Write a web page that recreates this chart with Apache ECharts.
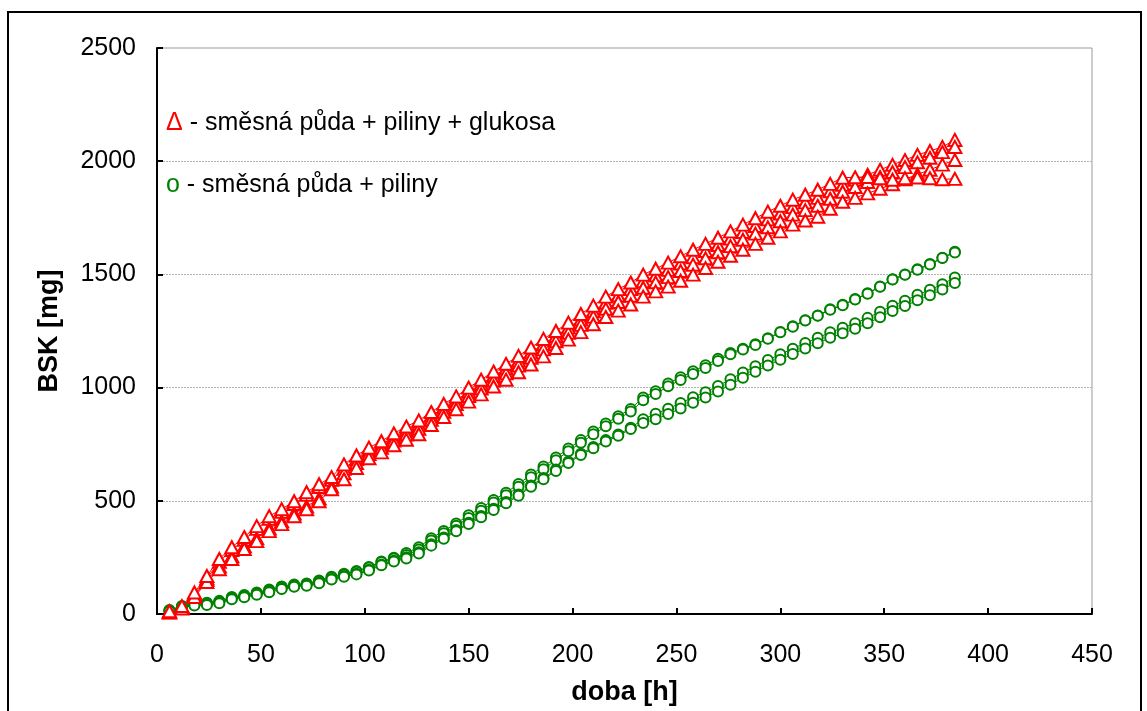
<!DOCTYPE html>
<html>
<head>
<meta charset="utf-8">
<script src="https://cdn.jsdelivr.net/npm/echarts@6/dist/echarts.min.js"></script>
<style>
  html, body { margin: 0; padding: 0; background: #fff; }
  #chart { width: 1147px; height: 711px; }
</style>
</head>
<body>
<div id="chart"></div>
<script>
// Sampling times [h]
const hours = [6, 12, 18, 24, 30, 36, 42, 48, 54, 60, 66, 72, 78, 84, 90, 96,
  102, 108, 114, 120, 126, 132, 138, 144, 150, 156, 162, 168, 174, 180, 186, 192,
  198, 204, 210, 216, 222, 228, 234, 240, 246, 252, 258, 264, 270, 276, 282, 288,
  294, 300, 306, 312, 318, 324, 330, 336, 342, 348, 354, 360, 366, 372, 378, 384];

// BSK [mg] – mixed soil + sawdust + glucose (four replicates)
const glucA = [10, 30, 88, 158, 231, 283, 328, 376, 420, 451, 486, 526, 561, 593, 641, 684,
  721, 748, 782, 811, 837, 875, 911, 944, 981, 1016, 1051, 1084, 1118, 1155, 1192, 1228,
  1265, 1301, 1337, 1375, 1407, 1435, 1470, 1495, 1520, 1548, 1576, 1603, 1630, 1658, 1687, 1714,
  1743, 1769, 1797, 1818, 1838, 1867, 1896, 1918, 1940, 1962, 1984, 2005, 2028, 2045, 2063, 2094];
const glucB = [8, 27, 80, 150, 210, 255, 299, 334, 378, 409, 444, 475, 510, 563, 621, 667,
  707, 734, 766, 793, 818, 858, 893, 927, 963, 996, 1031, 1063, 1097, 1132, 1169, 1205,
  1242, 1277, 1313, 1348, 1378, 1406, 1441, 1465, 1488, 1515, 1543, 1571, 1598, 1625, 1653, 1680,
  1708, 1735, 1764, 1784, 1803, 1834, 1865, 1886, 1908, 1930, 1952, 1974, 1995, 2015, 2040, 2063];
const glucC = [6, 24, 75, 141, 198, 243, 287, 322, 366, 397, 432, 463, 498, 551, 595, 645,
  688, 714, 745, 770, 794, 835, 870, 904, 938, 970, 1005, 1035, 1068, 1102, 1138, 1175,
  1212, 1245, 1280, 1312, 1340, 1367, 1402, 1425, 1446, 1472, 1499, 1528, 1556, 1582, 1609, 1635,
  1662, 1690, 1720, 1738, 1755, 1790, 1821, 1838, 1858, 1878, 1898, 1920, 1942, 1962, 1985, 2005];
const glucD = [12, 35, 95, 168, 243, 295, 340, 388, 432, 463, 498, 538, 573, 605, 661, 700,
  735, 763, 798, 828, 855, 892, 928, 961, 1000, 1035, 1071, 1105, 1140, 1177, 1215, 1250,
  1287, 1325, 1362, 1402, 1435, 1464, 1499, 1525, 1552, 1580, 1609, 1635, 1662, 1690, 1720, 1748,
  1777, 1803, 1830, 1852, 1874, 1900, 1927, 1929, 1930, 1925, 1918, 1925, 1928, 1925, 1920, 1922];

// BSK [mg] – mixed soil + sawdust (four replicates)
const sawA = [18, 35, 44, 50, 58, 75, 84, 95, 108, 122, 130, 135, 148, 165, 178, 190,
  208, 232, 248, 269, 295, 335, 367, 400, 436, 468, 504, 536, 574, 616, 651, 691,
  731, 768, 806, 841, 874, 906, 956, 984, 1018, 1046, 1072, 1099, 1127, 1153, 1172, 1192,
  1218, 1246, 1271, 1298, 1319, 1346, 1366, 1391, 1417, 1447, 1479, 1500, 1523, 1546, 1574, 1600];
const sawB = [16, 33, 42, 47, 55, 72, 81, 92, 105, 119, 127, 132, 145, 162, 175, 187,
  205, 229, 245, 261, 285, 325, 357, 390, 424, 456, 492, 524, 562, 604, 639, 679,
  719, 756, 794, 829, 862, 894, 944, 972, 1006, 1034, 1060, 1087, 1117, 1147, 1168, 1188,
  1216, 1244, 1269, 1296, 1317, 1344, 1364, 1389, 1415, 1445, 1477, 1498, 1521, 1544, 1572, 1597];
const sawC = [14, 30, 40, 43, 51, 68, 77, 88, 99, 113, 123, 128, 139, 155, 168, 178,
  195, 218, 235, 251, 273, 308, 338, 371, 403, 433, 465, 495, 528, 568, 601, 638,
  673, 708, 738, 768, 793, 823, 860, 884, 907, 932, 957, 980, 1007, 1037, 1067, 1094,
  1122, 1147, 1172, 1197, 1220, 1244, 1264, 1284, 1308, 1335, 1362, 1384, 1410, 1432, 1457, 1486];
const sawD = [12, 28, 38, 40, 48, 65, 74, 85, 96, 110, 120, 125, 136, 152, 165, 175,
  192, 215, 232, 245, 267, 302, 332, 365, 397, 427, 459, 489, 522, 562, 595, 632,
  667, 702, 732, 762, 787, 817, 844, 860, 883, 908, 933, 956, 983, 1013, 1043, 1070,
  1098, 1123, 1148, 1173, 1196, 1220, 1240, 1260, 1284, 1311, 1338, 1360, 1386, 1408, 1433, 1462];

// Axis ticks
const xTicks = [0, 50, 100, 150, 200, 250, 300, 350, 400, 450];
const yTicks = [0, 500, 1000, 1500, 2000, 2500];

const RED = '#ff0000';
const GREEN = '#008000';
const FONT = '"Liberation Sans", Arial, sans-serif';

function pairs(values) {
  return hours.map((h, i) => [h, values[i]]);
}

function replicate(values, color, symbol, size) {
  return {
    type: 'line',
    data: pairs(values),
    symbol: symbol,
    symbolSize: size,
    showAllSymbol: true,
    lineStyle: { color: color, width: 1 },
    itemStyle: { color: '#ffffff', borderColor: color, borderWidth: 2 },
    emphasis: { disabled: true },
    animation: false
  };
}

const chart = echarts.init(document.getElementById('chart'), null, { renderer: 'canvas' });

chart.setOption({
  backgroundColor: '#ffffff',
  animation: false,
  grid: {
    left: 157, top: 48, right: 55, bottom: 96,
    show: true, borderColor: '#9a9a9a', borderWidth: 1, backgroundColor: 'transparent'
  },
  xAxis: {
    type: 'value',
    min: xTicks[0], max: xTicks[xTicks.length - 1], interval: xTicks[1] - xTicks[0],
    name: 'doba [h]', nameLocation: 'middle', nameGap: 65,
    nameTextStyle: { fontFamily: FONT, fontSize: 27, fontWeight: 'bold', color: '#000' },
    axisLine: { show: true, onZero: false, lineStyle: { color: '#000', width: 2 } },
    axisTick: { show: true, inside: true, length: 6, lineStyle: { color: '#000', width: 2 } },
    axisLabel: { fontFamily: FONT, fontSize: 25, color: '#000', margin: 29, formatter: v => String(v) },
    splitLine: { show: false }
  },
  yAxis: {
    type: 'value',
    min: yTicks[0], max: yTicks[yTicks.length - 1], interval: yTicks[1] - yTicks[0],
    name: 'BSK [mg]', nameLocation: 'middle', nameGap: 94, nameRotate: 90,
    nameTextStyle: { fontFamily: FONT, fontSize: 27, fontWeight: 'bold', color: '#000' },
    axisLine: { show: true, onZero: false, lineStyle: { color: '#000', width: 2 } },
    axisTick: { show: true, inside: true, length: 6, lineStyle: { color: '#000', width: 2 } },
    axisLabel: { fontFamily: FONT, fontSize: 25, color: '#000', margin: 21, formatter: v => String(v) },
    splitLine: { show: true, showMaxLine: false, lineStyle: { color: '#b4b4b4', width: 1, type: [2, 1] } }
  },
  graphic: [
    {
      type: 'rect', silent: true, z: 100,
      shape: { x: 8, y: 12, width: 1133, height: 720 },
      style: { fill: 'none', stroke: '#000', lineWidth: 2 }
    },
    {
      type: 'text', left: 166, top: 111, z: 100,
      style: {
        text: '{r|Δ} - směsná půda + piliny + glukosa',
        font: '25px ' + FONT, fill: '#000',
        rich: { r: { fill: RED, font: '25px ' + FONT } }
      }
    },
    {
      type: 'text', left: 166, top: 173, z: 100,
      style: {
        text: '{g|o} - směsná půda + piliny',
        font: '25px ' + FONT, fill: '#000',
        rich: { g: { fill: GREEN, font: '25px ' + FONT } }
      }
    }
  ],
  series: [
    replicate(sawA, GREEN, 'circle', 10),
    replicate(sawB, GREEN, 'circle', 10),
    replicate(sawC, GREEN, 'circle', 10),
    replicate(sawD, GREEN, 'circle', 10),
    replicate(glucA, RED, 'triangle', [13, 12]),
    replicate(glucB, RED, 'triangle', [13, 12]),
    replicate(glucC, RED, 'triangle', [13, 12]),
    replicate(glucD, RED, 'triangle', [13, 12])
  ]
});
</script>
</body>
</html>
